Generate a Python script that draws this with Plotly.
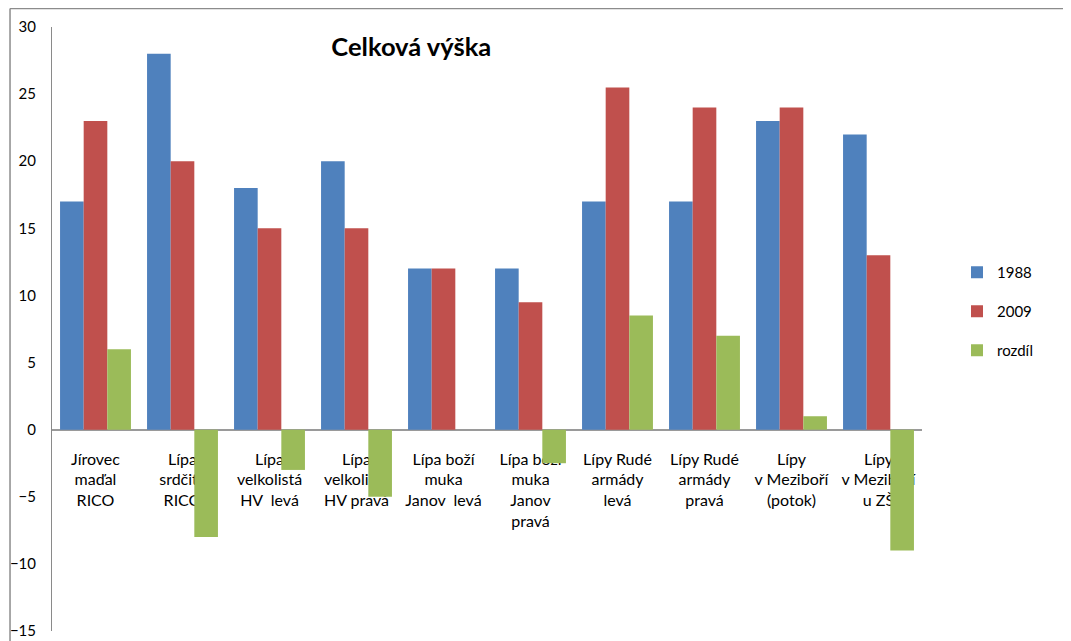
import plotly.graph_objects as go

categories = [
    "Jírovec<br>maďal<br>RICO",
    "Lípa<br>srdčitá<br>RICO",
    "Lípa<br>velkolistá<br>HV  levá",
    "Lípa<br>velkolistá<br>HV pravá",
    "Lípa boží<br>muka<br>Janov  levá",
    "Lípa boží<br>muka<br>Janov<br>pravá",
    "Lípy Rudé<br>armády<br>levá",
    "Lípy Rudé<br>armády<br>pravá",
    "Lípy<br>v Meziboří<br>(potok)",
    "Lípy<br>v Meziboří<br>u ZŠ",
]
v1988 = [17, 28, 18, 20, 12, 12, 17, 17, 23, 22]
v2009 = [23, 20, 15, 15, 12, 9.5, 25.5, 24, 24, 13]
rozdil = [6, -8, -3, -5, 0, -2.5, 8.5, 7, 1, -9]
series_names = ["1988", "2009", "rozdíl"]
series_colors = ["#4F81BD", "#C0504D", "#9BBB59"]
y_ticks = [-15, -10, -5, 0, 5, 10, 15, 20, 25, 30]

OFF = 8  # page body margin
W, H = 1071 - OFF, 641 - OFF
# plot area in page pixels
L, R, T, B = 51.5, 922, 27, 631
FONT = "Lato"

def px_x(px):
    return (px - L) / (R - L)

def px_y(py):
    return (B - py) / (B - T)

fig = go.Figure()
for name, vals, col in zip(series_names, [v1988, v2009, rozdil], series_colors):
    fig.add_trace(go.Bar(
        x=categories, y=vals, name=name, marker=dict(color=col, line=dict(width=0)),
        legendgroup=name,
    ))

fig.update_layout(
    width=W, height=H,
    margin=dict(l=L - OFF, r=1071 - R, t=T - OFF, b=641 - B, autoexpand=False),
    paper_bgcolor="white", plot_bgcolor="white",
    barmode="group", bargap=0.185, bargroupgap=0,
    font=dict(family=FONT, size=15, color="black"),
    showlegend=True,
    legend=dict(
        x=px_x(957), y=px_y(256), xanchor="left", yanchor="top",
        font=dict(family=FONT, size=15, color="black"),
        tracegroupgap=16.5, bgcolor="rgba(0,0,0,0)",
    ),
    title=dict(
        text="<b>Celková výška</b>", font=dict(family=FONT, size=25.5, color="black"),
        xref="paper", x=px_x(411), xanchor="center",
        yref="container", y=1 - (47 - OFF) / H, yanchor="middle",
    ),
    xaxis=dict(
        anchor="free", position=15 / 45, showline=True, linecolor="#9a9a9a", linewidth=1.5,
        ticks="", showgrid=False, layer="below traces", tickangle=0,
        ticklabelstandoff=15,
        tickfont=dict(family=FONT, size=16, color="black"),
    ),
    yaxis=dict(
        range=[-15, 30], tickvals=y_ticks, showline=True, linecolor="#8a8a8a", linewidth=1,
        ticks="", showgrid=False, zeroline=False, ticklabelstandoff=12,
        tickfont=dict(family=FONT, size=15, color="black"),
    ),
    shapes=[
        dict(type="line", xref="paper", yref="paper", x0=px_x(9.5), x1=px_x(1090),
             y0=px_y(8.5), y1=px_y(8.5), line=dict(color="#8c8c8c", width=1.5)),
        dict(type="line", xref="paper", yref="paper", x0=px_x(9.5), x1=px_x(9.5),
             y0=px_y(8.5), y1=px_y(660), line=dict(color="#8c8c8c", width=1.5)),
    ],
)

fig.write_html("out.html")
